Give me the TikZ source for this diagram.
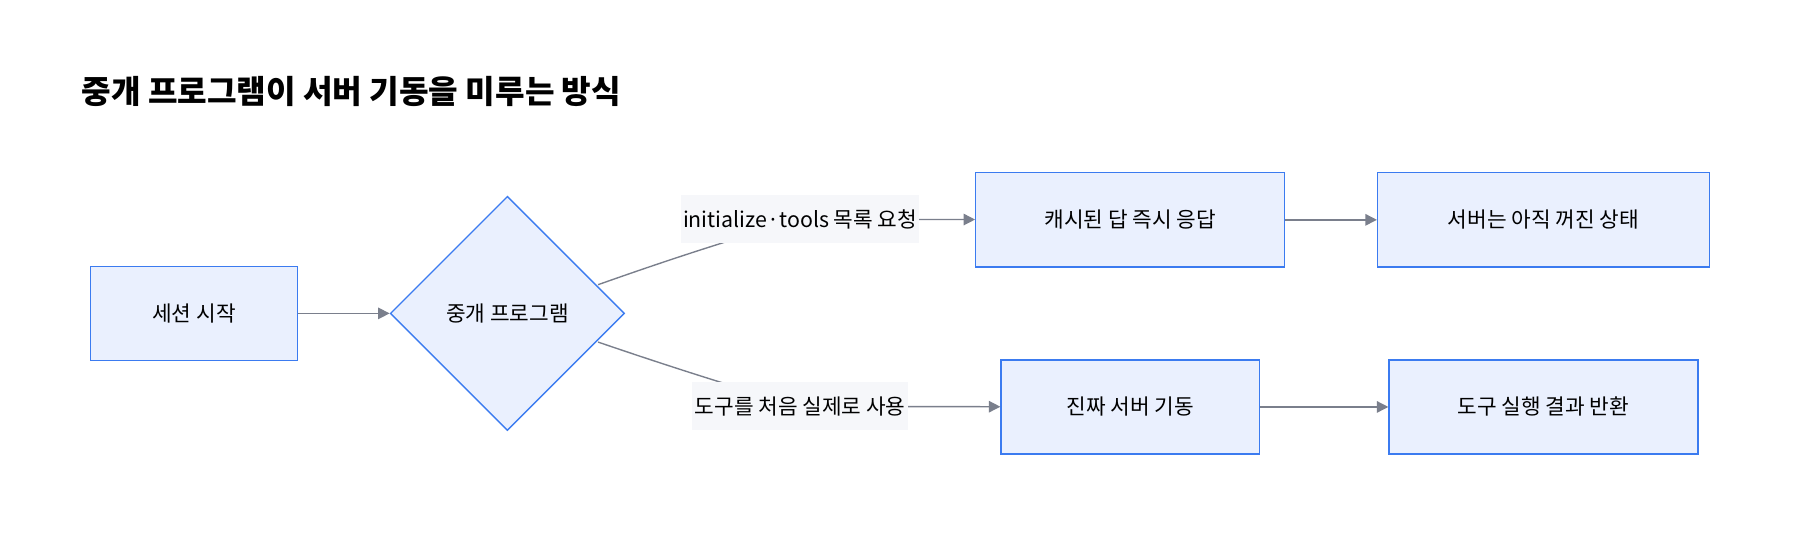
\documentclass[tikz,border=0pt]{standalone}
\usepackage{fontspec}
\setmainfont{Noto Sans CJK KR}
\usetikzlibrary{shapes.geometric,arrows.meta}
\definecolor{nfill}{HTML}{EAF0FE}
\definecolor{nline}{HTML}{3B7BF0}
\definecolor{eline}{HTML}{7A7F8C}
\definecolor{lbg}{HTML}{F6F7FA}
\begin{document}
\begin{tikzpicture}[x=0.5pt,y=-0.5pt,
  box/.style={draw=nline,fill=nfill,line width=0.6pt,font=\fontsize{9.3}{11}\selectfont,inner sep=0},
  edge/.style={draw=eline,line width=0.6pt,-{Triangle[length=5pt,width=5pt]}},
  lab/.style={fill=lbg,font=\fontsize{9.3}{11}\selectfont,inner sep=1pt,minimum height=21pt}]
\useasboundingbox[fill=white] (0,0) rectangle (1568,468.7);
\node[anchor=west,font=\bfseries\fontsize{14}{16}\selectfont] (t) at (64,80) {중개 프로그램이 서버 기동을 미루는 방식};
\node[box,minimum width=90pt,minimum height=41pt] (a) at (169,273) {세션 시작};
\node[box,diamond,minimum width=102pt,minimum height=102pt] (d) at (442,273) {중개 프로그램};
\node[box,minimum width=134.5pt,minimum height=41pt] (b1) at (984.5,191.5) {캐시된 답 즉시 응답};
\node[box,minimum width=144.5pt,minimum height=41pt] (b2) at (1344.5,191.5) {서버는 아직 꺼진 상태};
\node[box,minimum width=112.5pt,minimum height=41pt] (c1) at (984.5,354.5) {진짜 서버 기동};
\node[box,minimum width=134.5pt,minimum height=41pt] (c2) at (1344.5,354.5) {도구 실행 결과 반환};
\draw[edge] (a) -- (d);
\draw[edge] (521,248) .. controls (600,220) and (650,205) .. (697,191) -- (b1);
\draw[edge] (521,298) .. controls (600,325) and (650,340) .. (697,354) -- (c1);
\node[lab] (l1) at (697,191) {initialize·tools 목록 요청};
\node[lab] (l2) at (697,354) {도구를 처음 실제로 사용};
\draw[edge] (b1) -- (b2);
\draw[edge] (c1) -- (c2);
\end{tikzpicture}
\end{document}
